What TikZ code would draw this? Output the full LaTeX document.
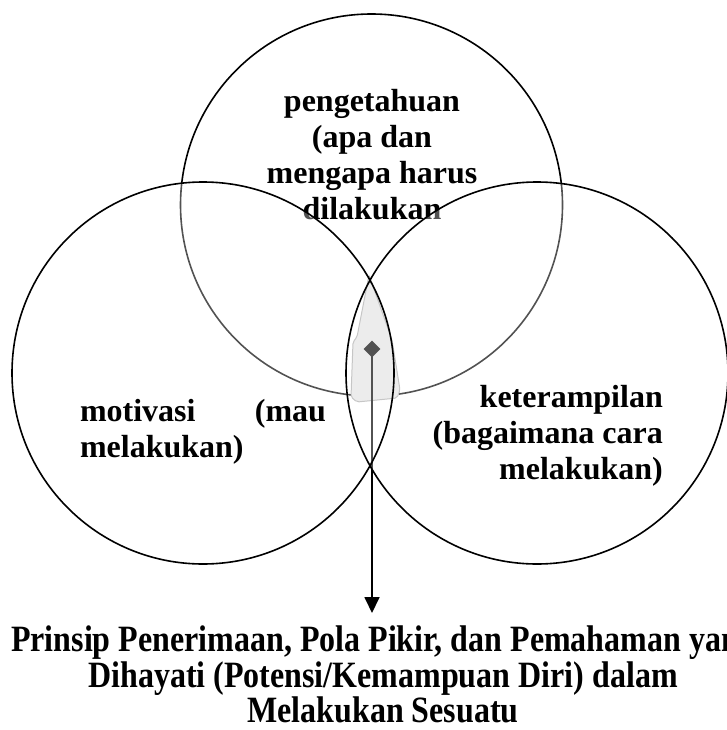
\documentclass[tikz,border=0pt]{standalone}
\usepackage{fontspec}
\setmainfont{Liberation Serif}
\usetikzlibrary{shapes.geometric,arrows.meta}

\begin{document}
\begin{tikzpicture}[x=1pt,y=-1pt,
   ring/.style={circle,draw,line width=1.6pt,minimum size=382pt,inner sep=0pt},
   veil/.style={fill=white,fill opacity=0.32},
   lens/.style={fill=gray!22,draw=gray!65,line width=1pt,rounded corners=2pt},
   marker/.style={diamond,fill=black,minimum size=17pt,inner sep=0pt},
   label/.style={font=\fontsize{32}{36}\selectfont\bfseries,inner sep=0pt},
   result/.style={font=\fontsize{32}{27.5}\selectfont\bfseries,inner sep=0pt}
]
   \useasboundingbox (0,0) rectangle (727,730);

   % top circle and its text
   \node[ring] (know) at (371.5,205) {};
   \node[label,align=center] (knowtext) at (372,155)
      {pengetahuan\\(apa dan\\mengapa harus\\dilakukan};

   % shaded core where the three circles meet
   \path[lens] (369,275) -- (357,337) -- (353,342) -- (351,397) -- (357,402)
      -- (397,398) -- (400,390) -- (392,340) -- cycle;
   \node[marker] (core) at (372,349) {};
   \coordinate (tip) at (372,613);
   \draw[line width=1.8pt,-{Triangle[width=15pt,length=16pt]}] (core.center) -- (tip);

   % left and right circles over the rest
   \fill[veil] (203,373) circle[radius=191] (537,373) circle[radius=191];
   \foreach \n/\x in {will/203,skill/537}
      \node[ring] (\n) at (\x,373) {};

   \node[label,text width=246pt,align=left] (willtext) at (203,432)
      {motivasi\hfill(mau\\melakukan)};
   \node[label,align=right,anchor=east] (skilltext) at (663,436)
      {keterampilan\\(bagaimana cara\\melakukan)};

   \node[result] (sum) at (383,679)
      {\scalebox{1}[1.16]{\begin{tabular}{@{}c@{}}
         Prinsip Penerimaan, Pola Pikir, dan Pemahaman yang\\
         Dihayati (Potensi/Kemampuan Diri) dalam\\
         Melakukan Sesuatu
       \end{tabular}}};
\end{tikzpicture}
\end{document}
